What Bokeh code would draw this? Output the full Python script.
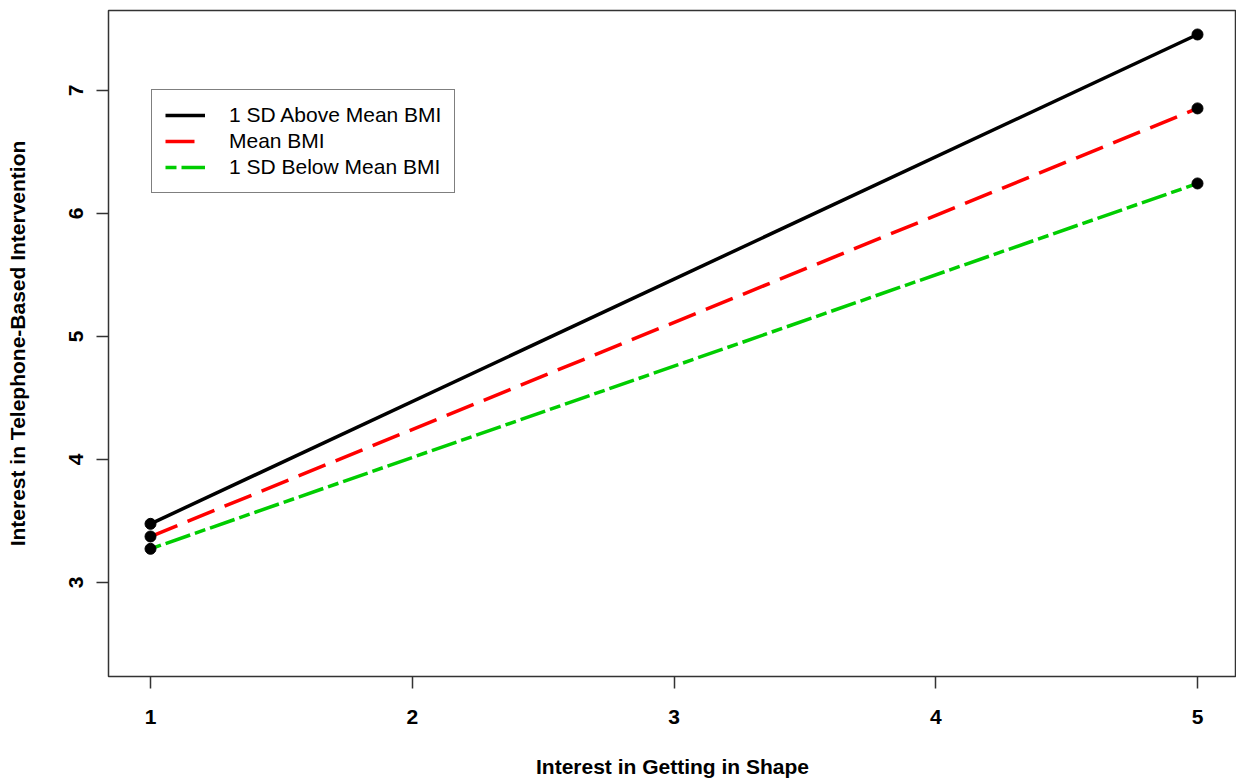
from bokeh.plotting import figure
from bokeh.models import FixedTicker, Legend, LegendItem
from bokeh.embed import file_html
from bokeh.resources import INLINE

# Data
x_vals = [1, 5]
above_bmi = [3.477, 7.455]
mean_bmi = [3.374, 6.854]
below_bmi = [3.274, 6.244]
series_labels = ["1 SD Above Mean BMI", "Mean BMI", "1 SD Below Mean BMI"]
x_ticks = [1, 2, 3, 4, 5]
y_ticks = [3, 4, 5, 6, 7]
x_title = "Interest in Getting in Shape"
y_title = "Interest in Telephone-Based Intervention"

FONT = "Liberation Sans"

p = figure(width=1236, height=782, x_range=(0.8395, 5.149), y_range=(2.236, 7.650),
           output_backend="svg", toolbar_location=None,
           min_border_left=108, min_border_right=0, min_border_top=10, min_border_bottom=106)
p.background_fill_color = "white"
p.border_fill_color = "white"
p.outline_line_color = "#333333"
p.outline_line_width = 1.5
p.xgrid.visible = False
p.ygrid.visible = False

for ax in (p.xaxis[0], p.yaxis[0]):
    ax.axis_line_color = None
    ax.major_tick_line_color = "#333333"
    ax.major_tick_line_width = 1.5
    ax.major_tick_out = 12
    ax.major_tick_in = 0
    ax.minor_tick_line_color = None
    ax.major_label_text_font = FONT
    ax.major_label_text_font_style = "bold"
    ax.major_label_text_font_size = "21px"
    ax.major_label_text_color = "black"
    ax.axis_label_text_font = FONT
    ax.axis_label_text_font_style = "bold"
    ax.axis_label_text_font_size = "21px"
    ax.axis_label_text_color = "black"

p.xaxis[0].ticker = FixedTicker(ticks=x_ticks)
p.yaxis[0].ticker = FixedTicker(ticks=y_ticks)
p.xaxis[0].axis_label = x_title
p.yaxis[0].axis_label = y_title
p.xaxis[0].major_label_standoff = 21
p.xaxis[0].axis_label_standoff = 28
p.yaxis[0].major_label_orientation = "vertical"
p.yaxis[0].major_label_standoff = 13
p.yaxis[0].axis_label_standoff = 38

r1 = p.line(x_vals, above_bmi, line_color="black", line_width=3.5, line_cap="butt")
r2 = p.line(x_vals, mean_bmi, line_color="#ff0000", line_width=3.5, line_dash="29 11", line_cap="butt")
r3 = p.line(x_vals, below_bmi, line_color="#00cd00", line_width=3.5, line_dash="11 5 26 5", line_cap="butt")

for ys in (above_bmi, mean_bmi, below_bmi):
    p.scatter(x_vals, ys, size=11, color="black")

legend = Legend(items=[LegendItem(label=series_labels[0], renderers=[r1]),
                       LegendItem(label=series_labels[1], renderers=[r2]),
                       LegendItem(label=series_labels[2], renderers=[r3])],
                location=(43, 483))
legend.label_text_font = FONT
legend.label_text_font_size = "21px"
legend.label_text_color = "black"
legend.glyph_width = 40
legend.glyph_height = 20
legend.label_height = 20
legend.label_standoff = 24
legend.spacing = 2
legend.padding = 13
legend.margin = 0
legend.border_line_color = "black"
legend.border_line_width = 1.2
legend.background_fill_color = "white"
legend.background_fill_alpha = 1
p.add_layout(legend)

open("out.html", "w").write(file_html(p, INLINE))
